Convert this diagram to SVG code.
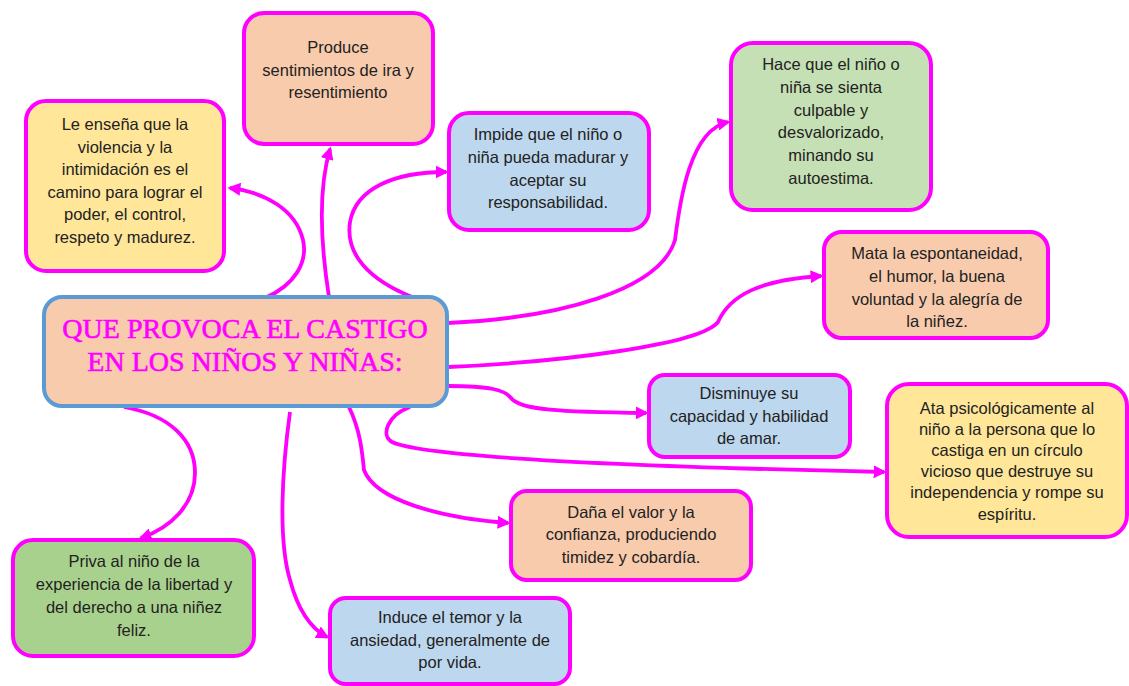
<svg xmlns="http://www.w3.org/2000/svg" width="1129" height="686" viewBox="0 0 1129 686">
<style>
.box{stroke:#FF00FF;stroke-width:4}
.peach{fill:#F8CBAD}
.yellow{fill:#FFE699}
.blue{fill:#BDD7EE}
.green{fill:#C5E0B4}
.green2{fill:#A9D18E}
.t{font-family:"Liberation Sans",Arial,sans-serif;font-size:16.5px;fill:#222;text-anchor:middle}
.title{font-family:"Liberation Serif","Times New Roman",serif;font-size:28px;fill:#FF00FF;stroke:#FF00FF;stroke-width:0.6;text-anchor:middle}
.c{fill:none;stroke:#FF00FF;stroke-width:3.8;marker-end:url(#ah)}
</style>
<defs>
<marker id="ah" viewBox="0 0 10 10" refX="8" refY="5" markerWidth="13" markerHeight="13" markerUnits="userSpaceOnUse" orient="auto">
<path d="M0,0 L10,5 L0,10 z" fill="#FF00FF"/>
</marker>
</defs>
<rect width="1129" height="686" fill="#FFFFFF"/>
<g id="connectors">
<path class="c" d="M265,298 C295,285 308,262 303,240 C296,210 265,192 230,188"/>
<path class="c" d="M329,297 C320,240 318,190 330,149"/>
<path class="c" d="M412,297 C370,280 345,255 350,222 C356,188 395,172 446,172"/>
<path class="c" d="M448,323 C560,318 660,290 675,240 C680,200 690,130 728,122"/>
<path class="c" d="M448,367 C560,362 700,345 718,322 C730,295 760,280 821,276"/>
<path class="c" d="M448,386 C490,386 505,390 511,398 C520,410 560,412 646,413"/>
<path class="c" d="M410,407 C388,415 380,435 392,442 C430,460 700,468 884,472"/>
<path class="c" d="M349,407 C360,430 362,450 364,470 C375,500 440,518 508,523"/>
<path class="c" d="M290,412 C282,470 278,540 290,580 C298,610 310,628 327,637"/>
<path class="c" d="M124,407 C170,415 195,440 195,473 C195,505 170,528 141,538"/>
</g>
<g id="center">
<rect x="44" y="297" width="403" height="109" rx="18" fill="#F8CBAD" stroke="#5B9BD5" stroke-width="4"/>
<text class="title" x="245" y="338">QUE PROVOCA EL CASTIGO</text>
<text class="title" x="245" y="371">EN LOS NIÑOS Y NIÑAS:</text>
</g>
<g id="n-ensena">
<rect class="box yellow" x="26" y="101" width="198" height="170" rx="20"/>
<text class="t" x="125" y="130">Le enseña que la</text>
<text class="t" x="125" y="153">violencia y la</text>
<text class="t" x="125" y="175">intimidación es el</text>
<text class="t" x="125" y="198">camino para lograr el</text>
<text class="t" x="125" y="220">poder, el control,</text>
<text class="t" x="125" y="243">respeto y madurez.</text>
</g>
<g id="n-produce">
<rect class="box peach" x="244" y="13" width="189" height="131" rx="20"/>
<text class="t" x="338" y="53">Produce</text>
<text class="t" x="338" y="76">sentimientos de ira y</text>
<text class="t" x="338" y="98">resentimiento</text>
</g>
<g id="n-impide">
<rect class="box blue" x="449" y="113" width="200" height="117" rx="20"/>
<text class="t" x="548" y="140">Impide que el niño o</text>
<text class="t" x="548" y="163">niña pueda madurar y</text>
<text class="t" x="548" y="186">aceptar su</text>
<text class="t" x="548" y="208">responsabilidad.</text>
</g>
<g id="n-hace">
<rect class="box green" x="731" y="43" width="200" height="167" rx="22"/>
<text class="t" x="831" y="70">Hace que el niño o</text>
<text class="t" x="831" y="93">niña se sienta</text>
<text class="t" x="831" y="116">culpable y</text>
<text class="t" x="831" y="138">desvalorizado,</text>
<text class="t" x="831" y="161">minando su</text>
<text class="t" x="831" y="184">autoestima.</text>
</g>
<g id="n-mata">
<rect class="box peach" x="824" y="232" width="224" height="106" rx="18"/>
<text class="t" x="937" y="259">Mata la espontaneidad,</text>
<text class="t" x="937" y="282">el humor, la buena</text>
<text class="t" x="937" y="305">voluntad y la alegría de</text>
<text class="t" x="937" y="327">la niñez.</text>
</g>
<g id="n-disminuye">
<rect class="box blue" x="649" y="375" width="201" height="82" rx="16"/>
<text class="t" x="749" y="399">Disminuye su</text>
<text class="t" x="749" y="422">capacidad y habilidad</text>
<text class="t" x="749" y="444">de amar.</text>
</g>
<g id="n-ata">
<rect class="box yellow" x="887" y="384" width="240" height="153" rx="22"/>
<text class="t" x="1007" y="414">Ata psicológicamente al</text>
<text class="t" x="1007" y="435">niño a la persona que lo</text>
<text class="t" x="1007" y="456">castiga en un círculo</text>
<text class="t" x="1007" y="477">vicioso que destruye su</text>
<text class="t" x="1007" y="498">independencia y rompe su</text>
<text class="t" x="1007" y="520">espíritu.</text>
</g>
<g id="n-dana">
<rect class="box peach" x="511" y="491" width="240" height="89" rx="16"/>
<text class="t" x="631" y="518">Daña el valor y la</text>
<text class="t" x="631" y="540">confianza, produciendo</text>
<text class="t" x="631" y="563">timidez y cobardía.</text>
</g>
<g id="n-induce">
<rect class="box blue" x="330" y="598" width="240" height="86" rx="16"/>
<text class="t" x="450" y="623">Induce el temor y la</text>
<text class="t" x="450" y="646">ansiedad, generalmente de</text>
<text class="t" x="450" y="668">por vida.</text>
</g>
<g id="n-priva">
<rect class="box green2" x="13" y="540" width="241" height="116" rx="20"/>
<text class="t" x="134" y="567">Priva al niño de la</text>
<text class="t" x="134" y="590">experiencia de la libertad y</text>
<text class="t" x="134" y="613">del derecho a una niñez</text>
<text class="t" x="134" y="636">feliz.</text>
</g>
</svg>
